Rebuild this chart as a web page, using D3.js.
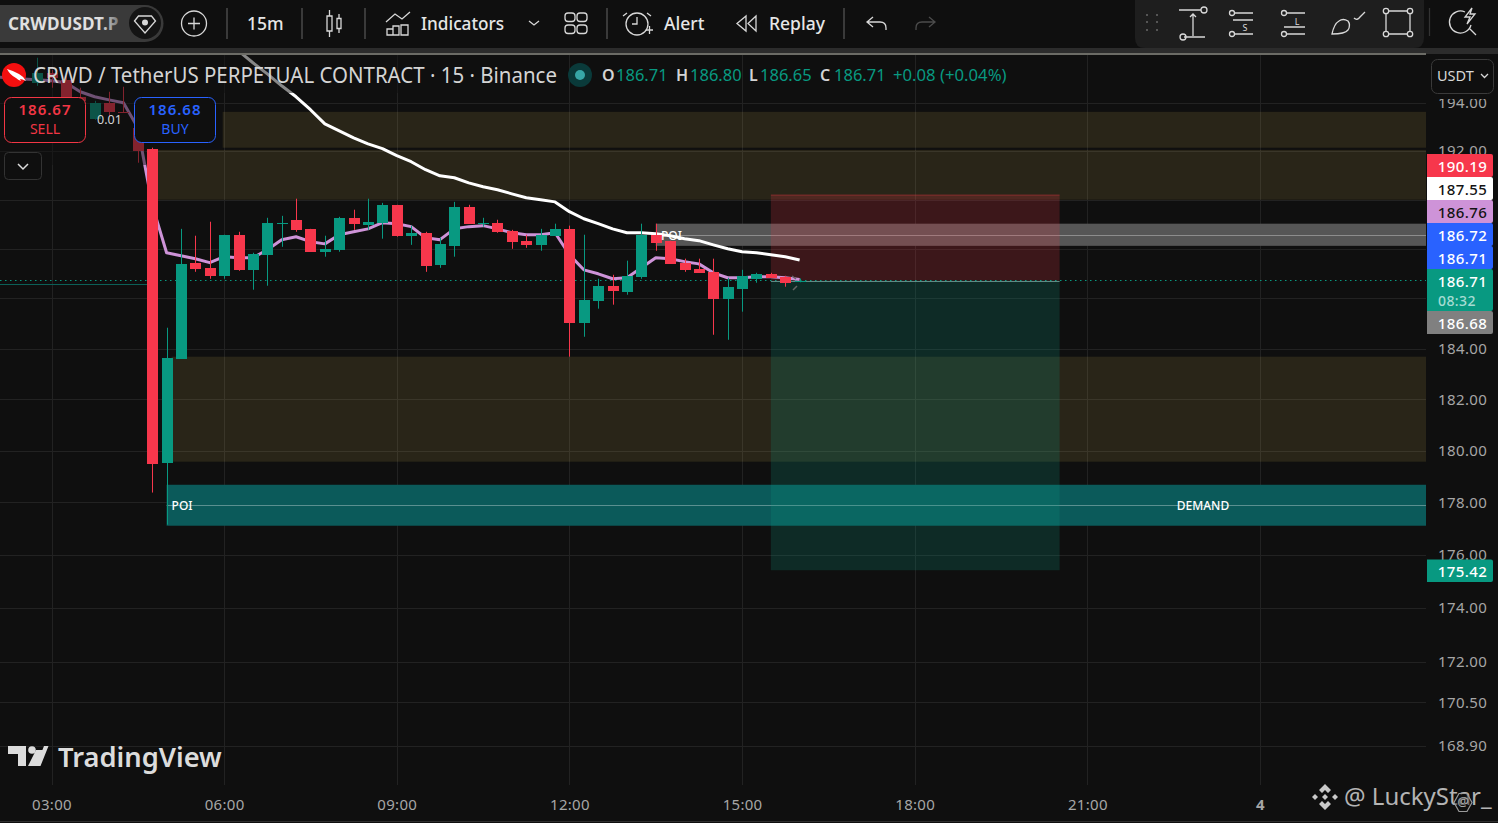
<!DOCTYPE html>
<html>
<head>
<meta charset="utf-8">
<title>CRWDUSDT.P 15m</title>
<script src="https://cdn.jsdelivr.net/npm/d3@7"></script>
<style>
  html, body { margin: 0; padding: 0; background: #0f0f0f; overflow: hidden; }
  svg { display: block; }
  text { font-family: "Noto Sans", sans-serif; }
</style>
</head>
<body>
<div id="chart"></div>
<script>
// Candles, first one is bar -1 (02:45), 15 minutes each
var firstBar = -1;
var opens = [194.85,195.27,194.97,194.26,193.34,194.01,193.63,192.97,192.10,179.53,183.60,187.44,187.23,186.91,188.57,187.15,187.76,189.02,189.18,188.81,187.88,187.96,189.26,188.98,189.06,189.79,188.53,188.65,187.35,188.12,189.71,189.02,189.06,188.73,188.33,188.16,188.53,188.81,185.03,185.91,186.51,186.27,186.87,188.57,188.33,187.44,187.19,187.07,185.99,186.39,186.79,186.99,186.87,186.71];
var highs = [195.90,195.39,195.18,194.64,194.09,194.47,194.68,193.63,192.14,184.83,188.81,188.53,189.10,188.57,188.69,187.84,189.26,189.34,190.04,188.81,188.53,189.30,189.59,190.04,189.87,189.79,188.94,188.69,188.45,189.91,189.79,189.26,189.18,188.77,188.57,188.81,189.02,188.94,188.57,186.79,186.95,187.52,189.02,189.02,188.33,187.60,187.60,187.60,186.83,187.15,187.03,187.03,186.91,186.80];
var lows = [194.72,194.64,194.13,193.92,193.30,193.42,193.59,191.52,178.38,177.15,183.60,187.07,186.79,186.79,187.11,186.35,186.51,188.08,188.69,187.88,187.68,187.88,188.77,188.77,188.41,188.49,188.16,187.07,187.23,187.68,189.02,188.90,188.65,188.00,188.04,187.92,188.53,183.68,184.47,185.59,185.75,186.15,186.79,187.92,187.39,187.07,187.03,184.55,184.35,185.47,186.63,186.83,186.47,186.65];
var closes = [195.27,195.06,194.26,194.09,194.01,193.63,193.59,192.01,179.49,183.64,187.39,187.19,186.91,188.57,187.15,187.80,189.06,189.06,188.77,187.88,188.00,189.26,189.02,189.10,189.79,188.53,188.65,187.31,188.20,189.71,189.02,189.06,188.69,188.29,188.16,188.57,188.81,185.03,185.95,186.51,186.31,186.91,188.57,188.25,187.39,187.15,187.03,185.99,186.47,186.91,186.99,186.83,186.63,186.71];

// Pink moving average, bars -4 to 52
var maFirstBar = -4;
var maValues = [195.10,195.06,195.01,194.97,194.93,194.85,194.47,194.26,194.13,194.01,192.97,189.79,187.84,187.72,187.60,187.44,187.68,187.64,187.64,187.96,188.37,188.49,188.29,188.20,188.57,188.69,188.81,189.06,189.02,188.90,188.45,188.37,188.81,188.90,188.94,188.81,188.65,188.57,188.57,188.65,187.76,187.15,186.99,186.79,186.83,187.23,187.64,187.60,187.48,187.39,187.03,186.83,186.83,186.87,186.87,186.83,186.76];

// White moving average, bars 12 to 52
var emaFirstBar = 12;
var emaValues = [196.66,196.19,195.69,195.22,194.72,194.26,193.72,193.13,192.84,192.55,192.30,192.10,191.81,191.56,191.23,190.98,190.90,190.69,190.53,190.41,190.24,190.08,190.00,189.91,189.51,189.22,189.02,188.81,188.65,188.65,188.61,188.53,188.41,188.33,188.16,188.00,187.88,187.84,187.76,187.68,187.55];

// Axis ticks
var gridPrices = [194,192,190,188,186,184,182,180,178,176,174,172,170.5,168.9];
var priceTicks = [194,192,184,182,180,178,176,174,172,170.5,168.9];
var timeTicks = [0,12,24,36,48,60,72,84];
var timeLabels = ["03:00","06:00","09:00","12:00","15:00","18:00","21:00","4"];

// Zones: [low, high, first bar]
var olives = [[192.14,193.63,11.9],[190.00,192.05,7.4],[179.57,183.68,8.35]];
var demandZone = [177.11,178.68,8];
var demandMid = 177.92;
var poiZone = [188.12,189.02,42];
var poiMid = 188.57;

// Position tool
var entryPrice = 186.71, stopPrice = 190.19, targetPrice = 175.42;
var positionBars = [50,70.07];

// Price scale tags
var tagValues = ["190.19","187.55","186.76","186.72","186.71"];
var tagColors = ["#f7374c","#ffffff","#ce93d8","#2962ff","#2962ff"];
var tagInks = ["#ffffff","#131313","#131313","#ffffff","#ffffff"];

var W = 1498, H = 823, paneR = 1426, paneT = 55, paneB = 785;
var red = "#f7374c", green = "#089981";

var svg = d3.select("#chart").append("svg").attr("width", W).attr("height", H);
svg.append("rect").attr("width", W).attr("height", H).attr("fill", "#0f0f0f");

var t0 = new Date(2025, 0, 3, 3, 0);
function barTime(i) { return new Date(t0.getTime() + i * 15 * 60000); }
var x = d3.scaleTime().domain([barTime(0), barTime(84)]).range([51.5, 1260]);
var y = d3.scaleLog().domain([168.9, 194]).range([746, 103]);
function bx(i) { return x(barTime(i)); }

svg.append("defs").append("clipPath").attr("id", "pane").append("rect")
  .attr("x", 0).attr("y", paneT).attr("width", paneR).attr("height", paneB - paneT);
var pane = svg.append("g").attr("clip-path", "url(#pane)");

// Grid
pane.selectAll(".h").data(gridPrices).enter().append("line")
  .attr("x1", 0).attr("x2", paneR)
  .attr("y1", function(d){ return Math.round(y(d)) + .5; })
  .attr("y2", function(d){ return Math.round(y(d)) + .5; })
  .attr("stroke", "#222222");
pane.selectAll(".v").data(timeTicks).enter().append("line")
  .attr("x1", function(d){ return Math.round(bx(d)) + .5; })
  .attr("x2", function(d){ return Math.round(bx(d)) + .5; })
  .attr("y1", paneT).attr("y2", paneB)
  .attr("stroke", "#222222");

// Zones
pane.selectAll(".zone").data(olives).enter().append("rect")
  .attr("x", function(d){ return bx(d[2]); })
  .attr("width", function(d){ return paneR - bx(d[2]); })
  .attr("y", function(d){ return y(d[1]); })
  .attr("height", function(d){ return y(d[0]) - y(d[1]); })
  .attr("fill", "#ffd966").attr("fill-opacity", .11);

function band(z, color) {
  pane.append("rect").attr("x", bx(z[2])).attr("width", paneR - bx(z[2]))
    .attr("y", y(z[1])).attr("height", y(z[0]) - y(z[1])).attr("fill", color);
}
function bandLine(p, bar) {
  pane.append("line").attr("x1", bx(bar)).attr("x2", paneR)
    .attr("y1", Math.round(y(p)) + .5).attr("y2", Math.round(y(p)) + .5)
    .attr("stroke", "#ffffff").attr("stroke-opacity", .33);
}
band(demandZone, "#0b5a5a");
bandLine(demandMid, demandZone[2]);
band(poiZone, "#565656");
bandLine(poiMid, poiZone[2]);

// Position boxes
var posX = bx(positionBars[0]), posW = bx(positionBars[1]) - posX;
pane.append("rect").attr("x", posX).attr("width", posW)
  .attr("y", y(stopPrice)).attr("height", y(entryPrice) - y(stopPrice))
  .attr("fill", "#f23645").attr("fill-opacity", .2);
pane.append("line").attr("x1", posX).attr("x2", posX + posW)
  .attr("y1", y(stopPrice)).attr("y2", y(stopPrice)).attr("stroke", "#f23645").attr("stroke-opacity", .4);
pane.append("rect").attr("x", posX).attr("width", posW)
  .attr("y", y(entryPrice)).attr("height", y(targetPrice) - y(entryPrice))
  .attr("fill", "#089981").attr("fill-opacity", .2);

// Current price lines
pane.append("line").attr("x1", 0).attr("x2", bx(7))
  .attr("y1", 284.5).attr("y2", 284.5).attr("stroke", "#0c5f57");
pane.append("line").attr("x1", 0).attr("x2", paneR)
  .attr("y1", Math.round(y(entryPrice)) - .5).attr("y2", Math.round(y(entryPrice)) - .5)
  .attr("stroke", green).attr("stroke-dasharray", "1.5 3.5").attr("stroke-width", 1);
pane.append("line").attr("x1", posX).attr("x2", posX + posW)
  .attr("y1", Math.round(y(entryPrice)) + .5).attr("y2", Math.round(y(entryPrice)) + .5)
  .attr("stroke", "#7fb5ad").attr("stroke-opacity", .7);

// Lines
var maLine = d3.line()
  .x(function(d, i){ return bx(maFirstBar + i); })
  .y(function(d){ return y(d); });
pane.append("path").attr("d", maLine(maValues)).attr("fill", "none")
  .attr("stroke", "#ce93d8").attr("stroke-width", 3).attr("stroke-linejoin", "round");
var emaLine = d3.line()
  .x(function(d, i){ return bx(emaFirstBar + i); })
  .y(function(d){ return y(d); });
pane.append("path").attr("d", emaLine(emaValues)).attr("fill", "none")
  .attr("stroke", "#ffffff").attr("stroke-width", 3).attr("stroke-linejoin", "round");

// Candles
var bars = opens.map(function(o, i){
  return { bar: firstBar + i, o: o, h: highs[i], l: lows[i], c: closes[i] };
});
var candle = pane.selectAll(".candle").data(bars).enter().append("g");
candle.append("line")
  .attr("x1", function(d){ return Math.round(bx(d.bar)) + .5; })
  .attr("x2", function(d){ return Math.round(bx(d.bar)) + .5; })
  .attr("y1", function(d){ return y(d.h); })
  .attr("y2", function(d){ return y(d.l); })
  .attr("stroke", function(d){ return d.c >= d.o ? green : red; });
candle.append("rect")
  .attr("x", function(d){ return Math.round(bx(d.bar)) - 5; })
  .attr("width", 11)
  .attr("y", function(d){ return Math.round(y(Math.max(d.o, d.c))); })
  .attr("height", function(d){ return Math.max(1, Math.round(y(Math.min(d.o, d.c))) - Math.round(y(Math.max(d.o, d.c)))); })
  .attr("fill", function(d){ return d.c >= d.o ? green : red; });

// Small cursor mark by the last bar
pane.append("path").attr("d", "M792 276l4 3M797 286l-4 4").attr("stroke", "#666").attr("stroke-width", 1.5);

// Band captions
function caption(t, px, py, anchor) {
  return svg.append("text").attr("x", px).attr("y", py).attr("text-anchor", anchor || "start")
    .attr("fill", "#ffffff").attr("font-size", 12).attr("font-weight", 500).text(t);
}
caption("POI", bx(8) + 5, 510);
caption("DEMAND", 1203, 510, "middle");
caption("POI", 661, 240);

// Legend shade over the plot
svg.append("rect").attr("x", 0).attr("y", paneT).attr("width", 146).attr("height", 110).attr("fill", "#0f0f0f").attr("fill-opacity", .5);
svg.append("rect").attr("x", 146).attr("y", paneT).attr("width", 420).attr("height", 38).attr("fill", "#0f0f0f").attr("fill-opacity", .5);

// Price axis
var yAxis = svg.append("g").attr("transform", "translate(" + paneR + ",0)")
  .call(d3.axisRight(y).tickValues(priceTicks).tickSize(0).tickPadding(12).tickFormat(d3.format(".2f")));
yAxis.select(".domain").remove();
yAxis.selectAll("text").attr("fill", "#a6a6a6").attr("font-size", 15).attr("letter-spacing", .4)
  .style("font-family", '"Noto Sans", sans-serif');
// the currency button sits over the top of the scale
svg.append("rect").attr("x", paneR + 1).attr("y", 55).attr("width", W - paneR).attr("height", 44).attr("fill", "#0f0f0f");

// Time axis
var xAxis = svg.append("g").attr("transform", "translate(0,799)")
  .call(d3.axisBottom(x).tickValues(timeTicks.map(barTime)).tickSize(0).tickPadding(0)
    .tickFormat(function(d, i){ return timeLabels[i]; }));
xAxis.select(".domain").remove();
xAxis.selectAll("text").attr("fill", "#a6a6a6").attr("font-size", 15).attr("letter-spacing", .3)
  .attr("font-weight", function(d, i){ return timeLabels[i] === "4" ? 700 : 400; })
  .style("font-family", '"Noto Sans", sans-serif');
svg.append("line").attr("x1", 0).attr("x2", W).attr("y1", 821.5).attr("y2", 821.5).attr("stroke", "#2e2e2e");

// Top bands and toolbar
svg.append("rect").attr("x", 0).attr("y", 0).attr("width", W).attr("height", 48).attr("fill", "#0f0f0f");
svg.append("rect").attr("x", 0).attr("y", 48).attr("width", W).attr("height", 6).attr("fill", "#2c2c2c");
svg.append("rect").attr("x", 0).attr("y", 53).attr("width", paneR).attr("height", 2).attr("fill", "#6c6c66");

// Price tags
var tagX = 1427, tagW = 66;
function tag(top, h, fill) {
  svg.append("path").attr("fill", fill)
    .attr("d", "M" + tagX + " " + top + "H" + (tagX + tagW - 2) + "q2 0 2 2V" + (top + h - 2) + "q0 2 -2 2H" + tagX + "Z");
}
function tagText(t, cx, cy, fill, size, anchor) {
  svg.append("text").attr("x", cx).attr("y", cy).attr("text-anchor", anchor || "middle")
    .attr("fill", fill).attr("font-size", size || 15).attr("font-weight", 500).attr("letter-spacing", .4).text(t);
}
tagValues.forEach(function(v, i){
  var top = 154 + i * 23;
  tag(top, 23, tagColors[i]);
  tagText(v, 1462.5, top + 18, tagInks[i]);
});
tag(269, 42, green);
tagText("186.71", 1462.5, 287, "#ffffff");
tagText("08:32", 1438, 306, "#a5dcd3", 14, "start");
tag(311, 23, "#808080");
tagText("186.68", 1462.5, 329, "#ffffff");
tag(559.5, 22.5, green);
tagText("175.42", 1462.5, 577, "#ffffff");

// USDT button
svg.append("rect").attr("x", 1431.5).attr("y", 59.5).attr("width", 62).attr("height", 34).attr("rx", 6)
  .attr("fill", "#0f0f0f").attr("stroke", "#3a3a3a");
svg.append("text").attr("x", 1437).attr("y", 81).attr("fill", "#d8d8d8").attr("font-size", 14.5).text("USDT");
svg.append("path").attr("d", "M1481 74l3.5 3.5l3.5 -3.5").attr("fill", "none").attr("stroke", "#d8d8d8").attr("stroke-width", 1.3);

// Title row
svg.append("circle").attr("cx", 14).attr("cy", 75).attr("r", 12).attr("fill", "#f40f0f");
svg.append("path").attr("fill", "#ffffff").attr("d", "M7 69q7 2 12 5q4 2 7 7q-4 -2 -6 -2l1 2q-3 -1 -5 -3q-6 -3 -9 -9z");
svg.append("text").attr("x", 33).attr("y", 83).attr("fill", "#d4d4d4").attr("font-size", 22.5)
  .attr("textLength", 524).attr("lengthAdjust", "spacingAndGlyphs")
  .text("CRWD / TetherUS PERPETUAL CONTRACT · 15 · Binance");
svg.append("circle").attr("cx", 580).attr("cy", 75).attr("r", 12).attr("fill", "#0a3a3a");
svg.append("circle").attr("cx", 580).attr("cy", 75).attr("r", 5).attr("fill", "#37a6a6");
var ohlc = [["O",602,14,"186.71"],["H",676,14,"186.80"],["L",749,11,"186.65"],["C",820,14,"186.71"]];
ohlc.forEach(function(d){
  svg.append("text").attr("x", d[1]).attr("y", 81).attr("fill", "#d4d4d4").attr("font-size", 16).attr("font-weight", 600).text(d[0]);
  svg.append("text").attr("x", d[1] + d[2]).attr("y", 81).attr("fill", green).attr("font-size", 16.5).text(d[3]);
});
svg.append("text").attr("x", 893).attr("y", 81).attr("fill", green).attr("font-size", 16.7).text("+0.08 (+0.04%)");

// Sell / buy buttons
function tradeButton(bx0, price, side, color) {
  svg.append("rect").attr("x", bx0 + .5).attr("y", 97.5).attr("width", 81).attr("height", 45).attr("rx", 7)
    .attr("fill", "#0f0f0f").attr("stroke", color);
  svg.append("text").attr("x", bx0 + 41).attr("y", 115).attr("text-anchor", "middle").attr("fill", color)
    .attr("font-size", 15).attr("font-weight", 600).attr("letter-spacing", 1).text(price);
  svg.append("text").attr("x", bx0 + 41).attr("y", 134).attr("text-anchor", "middle").attr("fill", color)
    .attr("font-size", 14).text(side);
}
tradeButton(4, "186.67", "SELL", "#f23645");
tradeButton(134, "186.68", "BUY", "#2962ff");
svg.append("text").attr("x", 109.5).attr("y", 124).attr("text-anchor", "middle").attr("fill", "#d4d4d4")
  .attr("font-size", 12.5).text("0.01");
svg.append("rect").attr("x", 4.5).attr("y", 152.5).attr("width", 37).attr("height", 27).attr("rx", 4)
  .attr("fill", "#0f0f0f").attr("stroke", "#333");
svg.append("path").attr("d", "M18 164l5 5l5 -5").attr("fill", "none").attr("stroke", "#ddd").attr("stroke-width", 1.5);

// Toolbar
var ink = "#d8d8d8";
function stroke(d, color, w) {
  return svg.append("path").attr("d", d).attr("fill", "none").attr("stroke", color || ink).attr("stroke-width", w || 1.3);
}
function ring(cx, cy, r, color) {
  svg.append("circle").attr("cx", cx).attr("cy", cy).attr("r", r).attr("fill", "none").attr("stroke", color || ink).attr("stroke-width", 1.3);
}
function label(t, px, size, weight, color) {
  return svg.append("text").attr("x", px).attr("y", 30).attr("fill", color || "#e6e6e6")
    .attr("font-size", size || 17.5).attr("font-weight", weight || 500).text(t);
}
function divider(px) {
  svg.append("line").attr("x1", px).attr("x2", px).attr("y1", 8).attr("y2", 39).attr("stroke", "#4a4a4a").attr("stroke-width", 1.5);
}
var fade = svg.append("defs").append("linearGradient").attr("id", "fade").attr("gradientUnits", "userSpaceOnUse")
  .attr("x1", 100).attr("x2", 122).attr("y1", 0).attr("y2", 0);
fade.append("stop").attr("offset", 0).attr("stop-color", "#e0e0e0");
fade.append("stop").attr("offset", 1).attr("stop-color", "#666");
svg.append("path").attr("fill", "#3a3a3a").attr("d", "M0 5H145a18 18 0 0 1 0 37H0Z");
svg.append("circle").attr("cx", 145).attr("cy", 23).attr("r", 16).attr("fill", "#141414");
stroke("M134.500 21l4 -5h13l4 5l-10.500 12z");
svg.append("circle").attr("cx", 145).attr("cy", 22.500).attr("r", 3).attr("fill", ink);
label("CRWDUSDT.P", 8, 17.2, 700, "url(#fade)");
ring(194, 23.500, 12.500);
stroke("M188 23.500h12M194 17.500v12");
divider(227);
label("15m", 247);
divider(302);
stroke("M327 16h5v15h-5zM329.500 10v6M329.500 31v6M337 18.500h4v10h-4zM339 14v4.500M339 28.500v4.500");
divider(365);
stroke("M386 22l9 -8l7 5l8 -7M387 35v-6h6v6zM393 35v-9h6v9zM399 35h-12M401 35v-10h7v10z");
label("Indicators", 421, 17.2);
stroke("M529 21l5 4l5 -4");
[[565,13],[577,13],[565,25],[577,25]].forEach(function(p){
  svg.append("rect").attr("x", p[0]).attr("y", p[1]).attr("width", 10).attr("height", 8.500).attr("rx", 3)
    .attr("fill", "none").attr("stroke", ink).attr("stroke-width", 1.3);
});
divider(607);
ring(637, 24, 11);
stroke("M637 17v7h-5M627 13l-4 3M647 13l4 3M646 30h7M649.500 26v8");
label("Alert", 664);
stroke("M746 16l-9 7.500l9 7.500zM756 16l-8 7.500l8 7.500z");
label("Replay", 769);
divider(844);
stroke("M886 30v-2q0 -6 -6 -6h-12M873 17l-6 5l6 5");
stroke("M916 30v-2q0 -6 6 -6h12M929 17l6 5l-6 5", "#4c4c4c");

// Right drawing toolbar
svg.append("path").attr("fill", "#1e1e1e").attr("d", "M1135 0H1424V38q0 10 -10 10H1145q-10 0 -10 -10Z");
[15,22,30].forEach(function(py){
  [1146,1156].forEach(function(px){
    svg.append("rect").attr("x", px).attr("y", py - 1).attr("width", 2).attr("height", 2).attr("fill", "#555");
  });
});
stroke("M1179 10h22M1184 37h21M1193 36v-22M1190 17l3 -3l3 3");
ring(1204, 10, 3); ring(1183, 37, 3);
stroke("M1235 13h18M1233 20h20M1235 34h18");
ring(1232, 13, 2.500); ring(1232, 34, 2.500);
svg.append("text").attr("x", 1245).attr("y", 31).attr("text-anchor", "middle").attr("fill", ink).attr("font-size", 9).text("S");
stroke("M1287 13h18M1284 27h21M1287 34h18");
ring(1284, 13, 2.500); ring(1284, 34, 2.500);
svg.append("text").attr("x", 1297).attr("y", 25).attr("text-anchor", "middle").attr("fill", ink).attr("font-size", 9).text("L");
stroke("M1332 34q2 -10 7 -13q4 -3 9 0q3 4 0 9q-3 4 -16 4zM1354 18q3 3 6 -1l5 -5");
ring(1386, 11, 2.700); ring(1410, 11, 2.700); ring(1386, 34, 2.700); ring(1410, 34, 2.700);
stroke("M1389 11h18M1389 34h18M1386 14v17M1410 14v17");
svg.append("line").attr("x1", 1429.500).attr("x2", 1429.500).attr("y1", 8).attr("y2", 36).attr("stroke", "#333").attr("stroke-width", 1.3);
stroke("M1465 12a11 11 0 1 0 6 13M1470 29l6 6M1472 8l-7 9h5l-3 7l8 -10h-5z");

// TradingView mark
svg.append("path").attr("fill", "#dcdcdc").attr("d", "M8 746H26V766H18V754H8ZM36 766L44 746H48.500L40.500 766ZM28 766L36 750H44L36 766Z");
svg.append("circle").attr("cx", 32).attr("cy", 750).attr("r", 3.800).attr("fill", "#dcdcdc");
svg.append("text").attr("x", 58).attr("y", 767).attr("fill", "#dcdcdc").attr("font-size", 27.3).attr("font-weight", 600).text("TradingView");

// Watermark
svg.append("g").attr("transform", "translate(1325,797)").selectAll("path")
  .data(["M0 -13L6 -7L3 -4L0 -7L-3 -4L-6 -7Z","M0 13L6 7L3 4L0 7L-3 4L-6 7Z","M-13 0L-10 -3L-7 0L-10 3Z","M13 0L10 -3L7 0L10 3Z","M0 -3L3 0L0 3L-3 0Z"])
  .enter().append("path").attr("d", function(d){ return d; }).attr("fill", "#c9c9c9");
svg.append("text").attr("x", 1344).attr("y", 805).attr("fill", "#b4b4b4").attr("font-size", 24).text("@ LuckyStar_");
svg.append("path").attr("d", "M1459 793.500h8l5 9l-5 9h-8l-5 -9z").attr("fill", "#0f0f0f").attr("fill-opacity", .45).attr("stroke", "#9a9a9a").attr("stroke-width", 1.2);
svg.append("text").attr("x", 1463).attr("y", 806).attr("text-anchor", "middle").attr("fill", "#a8a8a8").attr("font-size", 13).text("@");
</script>
</body>
</html>
